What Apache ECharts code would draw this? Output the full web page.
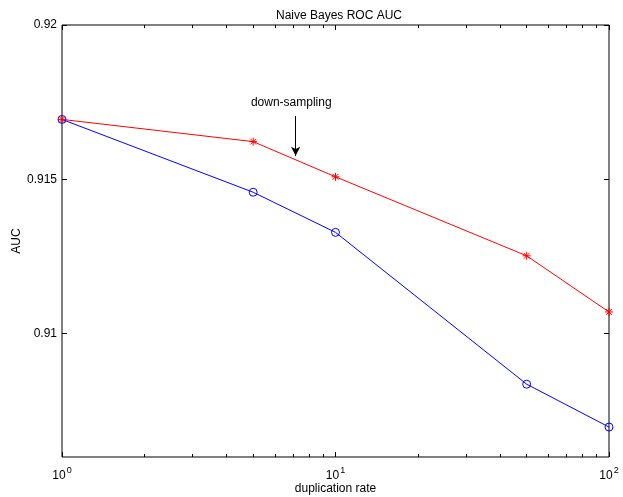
<!DOCTYPE html>
<html>
<head>
<meta charset="utf-8">
<script src="https://cdn.jsdelivr.net/npm/echarts@6/dist/echarts.min.js"></script>
<style>html,body{margin:0;padding:0;background:#fff}#c{width:623px;height:497px}</style>
</head>
<body>
<div id="c"></div>
<script>
const duplicationRate = [1, 5, 10, 50, 100];
const aucStar = [0.91694, 0.91622, 0.91508, 0.91252, 0.91070];
const aucCircle = [0.91694, 0.91458, 0.91328, 0.90836, 0.90697];
const yTicks = [0.91, 0.915, 0.92];
const xMajorTicks = [1, 10, 100];
const xMinorTicks = [2, 3, 4, 5, 6, 7, 8, 9, 20, 30, 40, 50, 60, 70, 80, 90];
const annotationText = 'down-sampling';
const annotationLabelAt = [6.89, 0.91748];
const annotationArrow = [[7.15, 0.91705], [7.15, 0.91576]];

const FONT = '"Liberation Sans", Arial, Helvetica, sans-serif';
const chart = echarts.init(document.getElementById('c'), null, {renderer: 'canvas'});

function pairs(xs, ys) { return xs.map((x, i) => [x, ys[i]]); }
const star = 'path://M0,-5L0,5M-5,0L5,0M-3.6,-3.6L3.6,3.6M-3.6,3.6L3.6,-3.6';

function xAx(pos, ticks, len, showLabel) {
  return {
    type: 'log', logBase: 10, min: 1, max: 100, position: pos,
    axisLine: {show: false}, splitLine: {show: false},
    axisTick: {show: true, inside: true, length: len, customValues: ticks, lineStyle: {color: '#000', width: 1}},
    axisLabel: showLabel ? {
      show: true, customValues: xMajorTicks, margin: 12,
      formatter: v => '{b|10}{s|' + Math.round(Math.log10(v)) + '}',
      rich: {
        b: {fontSize: 12, fontFamily: FONT, color: '#000', lineHeight: 14},
        s: {fontSize: 9, fontFamily: FONT, color: '#000', lineHeight: 14, padding: [0, 0, 10, 1]}
      }
    } : {show: false},
    name: showLabel ? 'duplication rate' : '',
    nameLocation: 'middle', nameGap: 26, nameMoveOverlap: false,
    nameTextStyle: {fontSize: 12, fontFamily: FONT, color: '#000'}
  };
}
function yAx(pos, showLabel) {
  return {
    type: 'value', min: 0.906, max: 0.92, position: pos,
    axisLine: {show: false}, splitLine: {show: false},
    axisTick: {show: true, inside: true, length: 5, customValues: yTicks, lineStyle: {color: '#000', width: 1}},
    axisLabel: showLabel ? {show: true, customValues: yTicks, margin: 5, fontSize: 12, fontFamily: FONT, color: '#000'} : {show: false},
    name: showLabel ? 'AUC' : '',
    nameLocation: 'middle', nameGap: 39, nameRotate: 90, nameMoveOverlap: false,
    nameTextStyle: {fontSize: 12, fontFamily: FONT, color: '#000'}
  };
}

chart.setOption({
  animation: false,
  backgroundColor: '#fff',
  title: {
    text: 'Naive Bayes ROC AUC', left: 334, top: 5, textAlign: 'center',
    textStyle: {fontSize: 12, fontWeight: 'normal', fontFamily: FONT, color: '#000'}
  },
  grid: {left: 62, right: 14, top: 25, bottom: 40, outerBoundsMode: 'none', containLabel: false,
    show: true, borderColor: '#000', borderWidth: 1, backgroundColor: '#fff'},
  xAxis: [
    xAx('bottom', xMajorTicks, 5, true),
    xAx('bottom', xMinorTicks, 3, false),
    xAx('top', xMajorTicks, 5, false),
    xAx('top', xMinorTicks, 3, false)
  ],
  yAxis: [yAx('left', true), yAx('right', false)],
  series: [
    {
      type: 'line', xAxisIndex: 0, yAxisIndex: 0, clip: false,
      data: pairs(duplicationRate, aucCircle),
      symbol: 'circle', symbolSize: 8, showAllSymbol: true,
      lineStyle: {color: '#0000ff', width: 1},
      itemStyle: {color: 'rgba(0,0,0,0)', borderColor: '#0000ff', borderWidth: 1},
      z: 2
    },
    {
      type: 'line', xAxisIndex: 0, yAxisIndex: 0, clip: false,
      data: pairs(duplicationRate, aucStar),
      symbol: star, symbolSize: 8, showAllSymbol: true,
      lineStyle: {color: '#ff0000', width: 1},
      itemStyle: {color: '#ff0000', borderColor: '#ff0000', borderWidth: 1},
      z: 3,
      markLine: {
        silent: true, symbol: ['none', 'arrow'], symbolSize: [7, 9],
        lineStyle: {color: '#000', width: 1, type: 'solid'},
        label: {show: false},
        data: [[{coord: annotationArrow[0]}, {coord: annotationArrow[1]}]]
      },
      markPoint: {
        silent: true, symbol: 'circle', symbolSize: 0,
        label: {show: true, position: 'inside', formatter: annotationText, fontSize: 12, fontFamily: FONT, color: '#000'},
        data: [{coord: annotationLabelAt}]
      }
    }
  ]
});
</script>
</body>
</html>
